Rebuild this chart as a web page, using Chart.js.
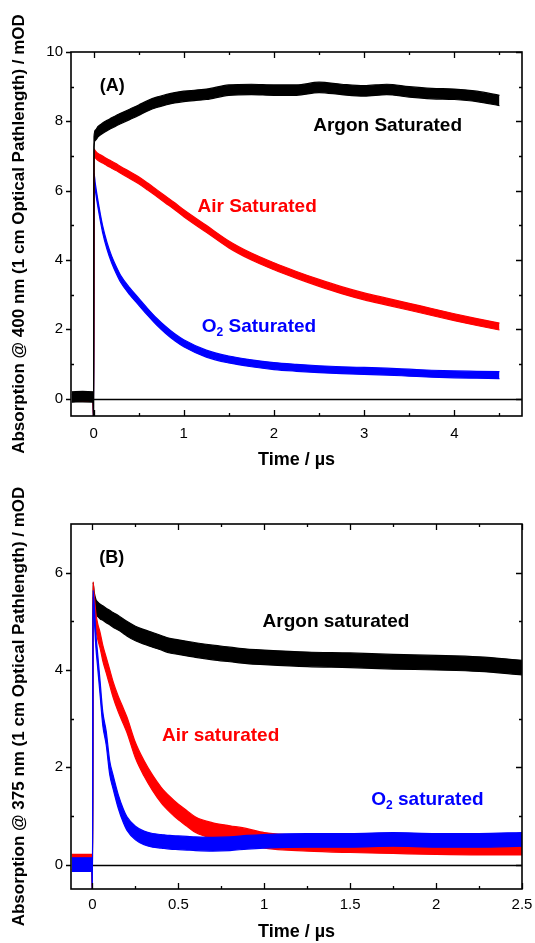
<!DOCTYPE html>
<html>
<head>
<meta charset="utf-8">
<script src="https://cdn.jsdelivr.net/npm/chart.js@4.4.1/dist/chart.umd.min.js"></script>
<style>
html,body{margin:0;padding:0;background:#fff;}
#wrap{position:relative;width:535px;height:943px;overflow:hidden;}
canvas{display:block;}
</style>
</head>
<body>
<div id="wrap">
<canvas id="cA" width="535" height="471"></canvas>
<canvas id="cB" width="535" height="472"></canvas>
</div>
<script>
// ================= DATA =================
// Panel A : absorption at 400 nm (mOD) vs time (µs)
const timeA   = [-0.24, -0.12, -0.005, 0, 0.005, 0.02, 0.05, 0.1, 0.15, 0.2, 0.25, 0.3, 0.4, 0.5, 0.6, 0.7, 0.8, 0.9, 1.0, 1.25, 1.5, 1.75, 2.0, 2.25, 2.5, 2.75, 3.0, 3.25, 3.5, 3.75, 4.0, 4.25, 4.5];
const argonA  = [0.05, 0.06, 0.05, -0.6, 7.4, 7.6, 7.7, 7.8, 7.88, 7.95, 8.02, 8.08, 8.2, 8.32, 8.45, 8.55, 8.62, 8.68, 8.72, 8.78, 8.9, 8.92, 8.9, 8.9, 8.98, 8.92, 8.88, 8.92, 8.85, 8.8, 8.78, 8.72, 8.6];
const airA    = [0.02, 0.02, 0.02, -0.6, 7.1, 7.05, 6.97, 6.9, 6.82, 6.75, 6.68, 6.6, 6.45, 6.3, 6.12, 5.93, 5.74, 5.55, 5.35, 4.9, 4.45, 4.1, 3.82, 3.57, 3.34, 3.13, 2.95, 2.8, 2.65, 2.5, 2.35, 2.21, 2.08];
const oxygenA = [0.02, 0.02, 0.02, -0.6, 6.4, 6.1, 5.6, 4.9, 4.4, 4.02, 3.72, 3.46, 3.1, 2.8, 2.5, 2.22, 1.98, 1.77, 1.6, 1.3, 1.13, 1.02, 0.94, 0.89, 0.85, 0.82, 0.8, 0.78, 0.75, 0.72, 0.7, 0.69, 0.68];
// half-width of the noise band of each trace (mOD)
const noiseArgonA = 0.15, noiseAirA = 0.1, noiseOxygenA = 0.1;

// Panel B : absorption at 375 nm (mOD) vs time (µs)
const timeB   = [-0.12, -0.06, -0.003, 0, 0.003, 0.01, 0.02, 0.03, 0.045, 0.06, 0.08, 0.1, 0.12, 0.15, 0.18, 0.2, 0.25, 0.3, 0.35, 0.4, 0.45, 0.5, 0.55, 0.6, 0.7, 0.8, 0.9, 1.0, 1.25, 1.5, 1.75, 2.0, 2.25, 2.5];
const argonB  = [0.05, 0.05, 0.05, -0.6, 5.65, 5.45, 5.3, 5.25, 5.2, 5.17, 5.12, 5.08, 5.03, 4.97, 4.9, 4.85, 4.75, 4.68, 4.62, 4.56, 4.5, 4.47, 4.44, 4.41, 4.36, 4.32, 4.28, 4.26, 4.22, 4.2, 4.17, 4.15, 4.12, 4.05];
const airB    = [0.05, 0.05, 0.05, -0.6, 5.65, 5.4, 5.0, 4.8, 4.6, 4.35, 4.1, 3.85, 3.6, 3.3, 3.05, 2.88, 2.35, 1.98, 1.68, 1.43, 1.24, 1.08, 0.95, 0.82, 0.7, 0.64, 0.58, 0.5, 0.44, 0.41, 0.39, 0.37, 0.36, 0.36];
const oxygenB = [0.0, 0.0, 0.0, -0.6, 5.5, 5.2, 4.6, 4.2, 3.6, 3.0, 2.6, 2.0, 1.7, 1.3, 1.0, 0.85, 0.65, 0.55, 0.5, 0.48, 0.46, 0.45, 0.44, 0.43, 0.42, 0.43, 0.46, 0.48, 0.5, 0.5, 0.52, 0.5, 0.5, 0.52];
const noiseArgonB = 0.15, noiseAirB = 0.16, noiseOxygenB = 0.14;

// Tick values
const xMajorA = [0, 1, 2, 3, 4];
const xMinorA = [0.5, 1.5, 2.5, 3.5, 4.5];
const yMajorA = [0, 2, 4, 6, 8, 10];
const yMinorA = [1, 3, 5, 7, 9];
const xMajorB = [0, 0.5, 1, 1.5, 2, 2.5];
const xMinorB = [0.25, 0.75, 1.25, 1.75, 2.25];
const yMajorB = [0, 2, 4, 6];
const yMinorB = [1, 3, 5];

// ================= STYLE / RENDER =================
const FONT = '"Liberation Sans", Arial, Helvetica, sans-serif';
const BLACK = '#000000', RED = '#ff0000', BLUE = '#0000ff';

function bandDatasets(time, mid, noise, color, hiIndex) {
  const hi = time.map((t, i) => ({x: t, y: mid[i] + noise}));
  const lo = time.map((t, i) => ({x: t, y: mid[i] - noise}));
  return [
    {data: hi, borderColor: color, backgroundColor: color, fill: {target: hiIndex + 1}},
    {data: lo, borderColor: color, backgroundColor: color, fill: false}
  ];
}

function drawRich(ctx, parts, x, y, size, color) {
  let cx = x;
  ctx.fillStyle = color;
  ctx.textBaseline = 'middle';
  ctx.textAlign = 'left';
  for (const p of parts) {
    const fs = p.sub ? Math.round(size * 0.65) : size;
    ctx.font = 'bold ' + fs + 'px ' + FONT;
    ctx.fillText(p.t, cx, p.sub ? y + size * 0.32 : y);
    cx += ctx.measureText(p.t).width;
  }
}

const decor = {
  id: 'decor',
  beforeDatasetsDraw(chart, args, o) {
    const {ctx, chartArea: a, scales: {x, y}} = chart;
    ctx.save();
    ctx.strokeStyle = BLACK;
    ctx.lineWidth = 1.5;
    const y0 = Math.round(y.getPixelForValue(0)) + 0.5;
    ctx.beginPath();
    ctx.moveTo(x.getPixelForValue(0), y0);
    ctx.lineTo(a.right, y0);
    ctx.stroke();
    ctx.restore();
  },
  afterDatasetsDraw(chart, args, o) {
    const {ctx, chartArea: a, scales: {x, y}} = chart;
    ctx.save();
    ctx.strokeStyle = BLACK;
    ctx.lineWidth = 1.3;
    ctx.beginPath();
    const tick = (x1, y1, x2, y2) => { ctx.moveTo(x1, y1); ctx.lineTo(x2, y2); };
    for (const v of o.xMajor) { const px = Math.round(x.getPixelForValue(v)) + 0.5; tick(px, a.bottom, px, a.bottom - 6); tick(px, a.top, px, a.top + 6); }
    for (const v of o.xMinor) { const px = Math.round(x.getPixelForValue(v)) + 0.5; tick(px, a.bottom, px, a.bottom - 3); tick(px, a.top, px, a.top + 3); }
    for (const v of o.yMajor) { const py = Math.round(y.getPixelForValue(v)) + 0.5; tick(a.left, py, a.left - 5, py); tick(a.right, py, a.right - 6, py); }
    for (const v of o.yMinor) { const py = Math.round(y.getPixelForValue(v)) + 0.5; tick(a.left, py, a.left + 3, py); tick(a.right, py, a.right - 3, py); }
    ctx.stroke();
    ctx.lineWidth = 1.6;
    ctx.strokeRect(a.left, a.top, a.right - a.left, a.bottom - a.top);
    for (const L of o.labels) {
      drawRich(ctx, L.parts, x.getPixelForValue(L.t), y.getPixelForValue(L.v), L.size, L.color);
    }
    ctx.restore();
  }
};

function makeChart(id, cfg) {
  return new Chart(document.getElementById(id), {
    type: 'line',
    data: {datasets: cfg.datasets},
    plugins: [decor],
    options: {
      responsive: false,
      animation: false,
      devicePixelRatio: 1,
      layout: {padding: {top: cfg.padTop, right: 13, left: 0, bottom: 0}},
      elements: {
        point: {radius: 0, hoverRadius: 0},
        line: {borderWidth: 1.2, cubicInterpolationMode: 'monotone'}
      },
      plugins: {
        legend: {display: false},
        tooltip: {enabled: false},
        decor: {xMajor: cfg.xMajor, xMinor: cfg.xMinor, yMajor: cfg.yMajor, yMinor: cfg.yMinor, labels: cfg.labels}
      },
      scales: {
        x: {
          type: 'linear', min: cfg.xMin, max: cfg.xMax,
          grid: {display: false, drawTicks: false}, border: {display: false},
          ticks: {autoSkip: false, maxRotation: 0, padding: cfg.xPad,
                  color: BLACK, font: {family: FONT, size: 15},
                  callback: v => String(v)},
          afterBuildTicks(s) { s.ticks = cfg.xMajor.map(v => ({value: v})); },
          title: {display: true, text: 'Time / µs', color: BLACK, font: {family: FONT, size: 18, weight: 'bold', lineHeight: 1.2}, padding: {top: 0, bottom: 0}},
          afterFit(s) { s.height = cfg.xH; s.paddingLeft = 0; s.paddingRight = 0; }
        },
        y: {
          type: 'linear', min: cfg.yMin, max: cfg.yMax,
          grid: {display: false, drawTicks: false}, border: {display: false},
          ticks: {autoSkip: false, padding: 8,
                  color: BLACK, font: {family: FONT, size: 15},
                  callback: v => String(v)},
          afterBuildTicks(s) { s.ticks = cfg.yMajor.map(v => ({value: v})); },
          title: {display: true, text: cfg.yTitle, color: BLACK, font: {family: FONT, size: 17, weight: 'bold', lineHeight: 1.2}, padding: {top: 9, bottom: 0}},
          afterFit(s) { s.width = 71; s.paddingTop = 0; s.paddingBottom = 0; }
        }
      }
    }
  });
}

// Panel A : black on top (indices 0,1), then red, then blue
makeChart('cA', {
  datasets: [
    ...bandDatasets(timeA, argonA, noiseArgonA, BLACK, 0),
    ...bandDatasets(timeA, airA, noiseAirA, RED, 2),
    ...bandDatasets(timeA, oxygenA, noiseOxygenA, BLUE, 4)
  ],
  padTop: 52, xH: 55, xPad: 9,
  xMin: -0.25, xMax: 4.75, yMin: -0.5, yMax: 10,
  xMajor: xMajorA, xMinor: xMinorA, yMajor: yMajorA, yMinor: yMinorA,
  yTitle: 'Absorption @ 400 nm (1 cm Optical Pathlength) / mOD',
  labels: [
    {parts: [{t: '(A)'}], t: 0.07, v: 9.02, size: 18, color: BLACK},
    {parts: [{t: 'Argon Saturated'}], t: 2.435, v: 7.87, size: 19, color: BLACK},
    {parts: [{t: 'Air Saturated'}], t: 1.152, v: 5.54, size: 19, color: RED},
    {parts: [{t: 'O'}, {t: '2', sub: true}, {t: ' Saturated'}], t: 1.2, v: 2.07, size: 19, color: BLUE}
  ]
});

// Panel B : blue on top (indices 0,1), then red, then black
makeChart('cB', {
  datasets: [
    ...bandDatasets(timeB, oxygenB, noiseOxygenB, BLUE, 0),
    ...bandDatasets(timeB, airB, noiseAirB, RED, 2),
    ...bandDatasets(timeB, argonB, noiseArgonB, BLACK, 4)
  ],
  padTop: 53, xH: 54, xPad: 7,
  xMin: -0.125, xMax: 2.5, yMin: -0.5, yMax: 7,
  xMajor: xMajorB, xMinor: xMinorB, yMajor: yMajorB, yMinor: yMinorB,
  yTitle: 'Absorption @ 375 nm (1 cm Optical Pathlength) / mOD',
  labels: [
    {parts: [{t: '(B)'}], t: 0.039, v: 6.31, size: 18, color: BLACK},
    {parts: [{t: 'Argon saturated'}], t: 0.99, v: 5.0, size: 19, color: BLACK},
    {parts: [{t: 'Air saturated'}], t: 0.405, v: 2.64, size: 19, color: RED},
    {parts: [{t: 'O'}, {t: '2', sub: true}, {t: ' saturated'}], t: 1.623, v: 1.33, size: 19, color: BLUE}
  ]
});
</script>
</body>
</html>
